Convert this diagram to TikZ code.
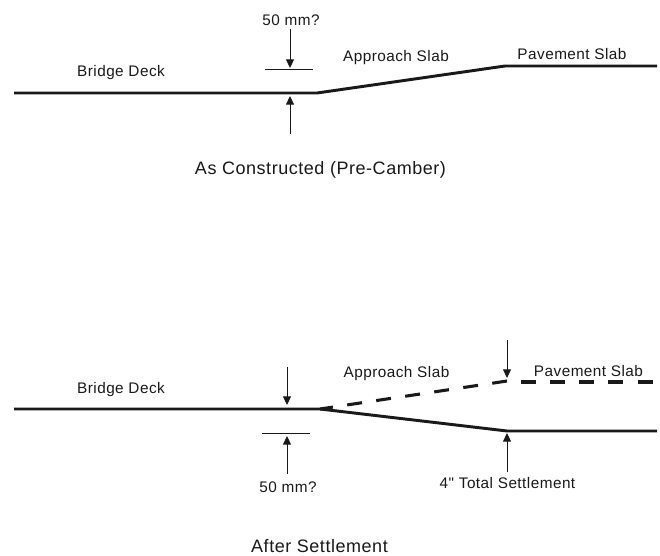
\documentclass[tikz,border=0pt]{standalone}
\usepackage{fontspec}
\newfontfamily\labfont[LetterSpace=3]{Liberation Sans}
\usetikzlibrary{arrows.meta}
\definecolor{ink}{gray}{0.1}
\tikzset{
  x=0.75pt,y=-0.75pt,
  lab/.style={inner sep=0pt,text=ink,font=\labfont\fontsize{11.5pt}{13pt}\selectfont},
  title/.style={inner sep=0pt,text=ink,font=\labfont\fontsize{13.5pt}{15pt}\selectfont},
  slab/.style={draw=ink,line width=2.2pt,line join=miter},
  dashslab/.style={draw=ink,line width=2.3pt,dash pattern=on 11.2pt off 10.8pt},
  dashpiece/.style={draw=ink,line width=2.3pt},
  tick/.style={draw=ink,line width=0.65pt},
  dim/.style={draw=ink,line width=0.65pt,-{Triangle[length=6.5pt,width=6pt]}}
}
\begin{document}
\begin{tikzpicture}
\useasboundingbox (0,0) rectangle (660,556);
% top
\coordinate (a1) at (14,93); \coordinate (a2) at (317,93); \coordinate (a3) at (505,66); \coordinate (a4) at (657,66);
\draw[slab] (a1) -- (a2) -- (a3) -- (a4);
\coordinate (t1) at (265,69); \coordinate (t2) at (313,69);
\draw[tick] (t1) -- (t2);
\coordinate (d1) at (290,29); \coordinate (d2) at (290,68);
\coordinate (d3) at (290,134); \coordinate (d4) at (290,96);
\draw[dim] (d1) -- (d2);
\draw[dim] (d3) -- (d4);
\node[lab] (n1) at (291,20) {50 mm?};
\node[lab] (n2) at (121,73) {Bridge Deck};
\node[lab] (n3) at (396,58) {Approach Slab};
\node[lab] (n4) at (572,54) {Pavement Slab};
\node[title] (n5) at (320.5,170) {As Constructed (Pre-Camber)};
% bottom
\coordinate (b1) at (14,409); \coordinate (b2) at (320,409); \coordinate (b3) at (507,431); \coordinate (b4) at (657,431);
\draw[slab] (b1) -- (b2) -- (b3) -- (b4);
\coordinate (c1) at (507,381);
\draw[dashslab] (c1) -- (b2);
\foreach \xa/\xb in {521/536,550/565,579/594,608/623,638/653}
  \draw[dashpiece] (\xa,382) -- (\xb,382);
\coordinate (u1) at (262,433); \coordinate (u2) at (310,433);
\draw[tick] (u1) -- (u2);
\coordinate (e1) at (287,367); \coordinate (e2) at (287,405);
\coordinate (e3) at (287,474); \coordinate (e4) at (287,436);
\coordinate (f1) at (507,340); \coordinate (f2) at (507,378);
\coordinate (f3) at (507,472); \coordinate (f4) at (507,433);
\draw[dim] (e1) -- (e2);
\draw[dim] (e3) -- (e4);
\draw[dim] (f1) -- (f2);
\draw[dim] (f3) -- (f4);
\node[lab] (m1) at (288,487) {50 mm?};
\node[lab] (m2) at (121,390) {Bridge Deck};
\node[lab] (m3) at (396.5,374) {Approach Slab};
\node[lab] (m4) at (588.5,371) {Pavement Slab};
\node[lab] (m5) at (507.5,483) {4" Total Settlement};
\node[title] (m6) at (319.5,546.5) {After Settlement};
\end{tikzpicture}
\end{document}
